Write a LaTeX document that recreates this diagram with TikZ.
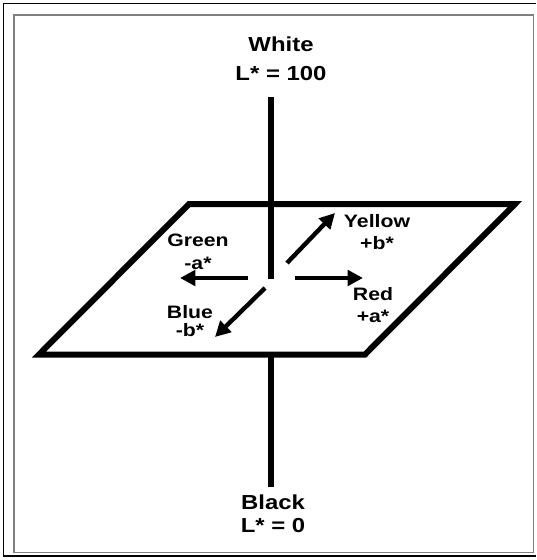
\documentclass[tikz,border=0pt]{standalone}
\usepackage{fontspec}
\setmainfont{Liberation Sans}[FakeStretch=1.18]
\usetikzlibrary{arrows.meta}
\tikzset{
  lbl/.style={font=\fontsize{13.5}{17}\selectfont\bfseries,align=center,inner sep=0pt},
  biglbl/.style={lbl,font=\fontsize{15.2}{17}\selectfont\bfseries},
  axis/.style={line width=5.2pt},
  plane/.style={line width=4.5pt,line join=miter},
  arr/.style={-{Triangle[length=11.5pt,width=11.5pt]},line width=3.3pt},
  frm/.style={line width=1.1pt},
}

\begin{document}
\begin{tikzpicture}[x=0.75pt,y=-0.75pt]
  \useasboundingbox (0,0) rectangle (536,560);
  \draw[frm] (536,3.5) -- (3.5,3.5) -- (3.5,556) -- (536,556);
  \draw[frm,gray] (14,15) rectangle (533.5,552.5);
  \coordinate (tl) at (189,204); \coordinate (tr) at (515,204);
  \coordinate (br) at (365,354.5); \coordinate (bl) at (39,354.5);
  \draw[plane] (bl) -- (tl) -- (tr) -- (br) -- cycle;
  \coordinate (ltop) at (271,97); \coordinate (lmid) at (271,279);
  \coordinate (lpl) at (271,354.5); \coordinate (lbot) at (271,487);
  \draw[axis] (ltop) -- (lmid); \draw[axis] (lpl) -- (lbot);
  \coordinate (g0) at (248,278); \coordinate (g1) at (180,278);
  \coordinate (r0) at (295,278); \coordinate (r1) at (363,278);
  \coordinate (y0) at (287,263); \coordinate (y1) at (335,213);
  \coordinate (b0) at (265,288); \coordinate (b1) at (215,337);
  \draw[arr] (g0) -- (g1); \draw[arr] (r0) -- (r1);
  \draw[arr] (y0) -- (y1); \draw[arr] (b0) -- (b1);
  \node[biglbl] (white) at (281,58.5) {White\\[5pt]L* = 100};
  \node[biglbl] (black) at (273,514) {Black\\L* = 0};
  \node[lbl] (green) at (198,252) {Green\\-a*};
  \node[lbl] (yellow) at (377,232) {Yellow\\+b*};
  \node[lbl] (red) at (373,305) {Red\\+a*};
  \node[lbl] (blue) at (190,321) {Blue\\[-3pt]-b*};
\end{tikzpicture}
\end{document}
